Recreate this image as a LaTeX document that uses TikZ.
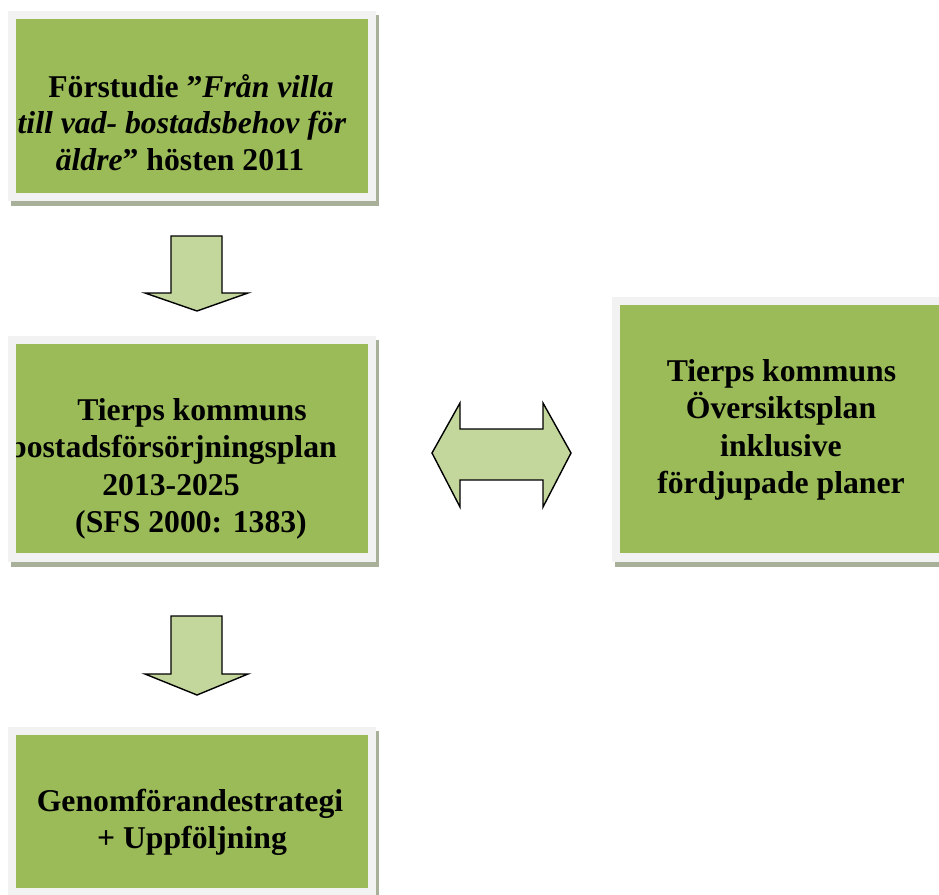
\documentclass[tikz,border=0pt]{standalone}
\usepackage{fontspec}
\setmainfont{Liberation Serif}
\definecolor{boxgreen}{HTML}{9BBB59}
\definecolor{rimgray}{HTML}{F2F2F2}
\definecolor{shadowc}{HTML}{A8B09A}
\definecolor{arrowfill}{HTML}{C3D69B}
\tikzset{
  shadowbox/.style={fill=shadowc, draw=none},
  rimbox/.style={fill=rimgray, draw=none},
  greenbox/.style={rectangle, fill=boxgreen, draw=none, inner sep=0pt},
  txt/.style={anchor=base, inner sep=0pt, font=\fontsize{31.7}{38}\selectfont\bfseries},
  blockarrow/.style={fill=arrowfill, draw=black, line width=1.4pt, line join=miter}
}
\begin{document}
\begin{tikzpicture}[x=1pt,y=-1pt]
\useasboundingbox (0,0) rectangle (939,894);

% ---- Box 1
\fill[shadowbox] (11,15) rectangle (379,206);
\fill[rimbox] (8,11) rectangle (376,201);
\node[greenbox, minimum width=352pt, minimum height=174pt] (b1) at (192,106) {};
\begin{scope}
\clip (16,19) rectangle (368,193);
\node[txt] (b1l1) at (191,97) {Förstudie ”\textit{Från villa}};
\node[txt] (b1l2) at (182,133) {\textit{till vad- bostadsbehov för}};
\node[txt] (b1l3) at (180,170) {\textit{äldre}” hösten 2011};
\end{scope}

% ---- Box 2
\fill[shadowbox] (11,340) rectangle (379,567);
\fill[rimbox] (8,336) rectangle (376,562);
\node[greenbox, minimum width=352pt, minimum height=209pt] (b2) at (192,448.5) {};
\begin{scope}
\clip (16,344) rectangle (368,553);
\node[txt] (b2l1) at (192,420) {Tierps kommuns};
\node[txt, anchor=base east] (b2l2) at (337,457) {bostadsförsörjningsplan};
\node[txt] (b2l3) at (171,495) {2013-2025};
\node[txt] (b2l4) at (191,532) {(SFS 2000: 1383)};
\end{scope}

% ---- Box 3
\fill[shadowbox] (615,301) rectangle (950,567);
\fill[rimbox] (612,297) rectangle (947,562);
\node[greenbox, minimum width=330pt, minimum height=248pt] (b3) at (785,429) {};
\node[txt] (b3l1) at (781.5,381) {Tierps kommuns};
\node[txt] (b3l2) at (781,418) {Översiktsplan};
\node[txt] (b3l3) at (781,456) {inklusive};
\node[txt] (b3l4) at (781,493) {fördjupade planer};

% ---- Box 4
\fill[shadowbox] (11,731) rectangle (379,905);
\fill[rimbox] (8,727) rectangle (376,900);
\node[greenbox, minimum width=352pt, minimum height=153pt] (b4) at (192,811.5) {};
\node[txt] (b4l1) at (190,811) {Genomförandestrategi};
\node[txt] (b4l2) at (192,848) {+ Uppföljning};

% ---- Arrows
\draw[blockarrow] (171,236) -- (222,236) -- (222,293) -- (248,293) -- (197,311)
  -- (145,293) -- (171,293) -- cycle;
\draw[blockarrow] (171,616) -- (222,616) -- (222,674) -- (248,674) -- (197,695)
  -- (145,674) -- (171,674) -- cycle;
\draw[blockarrow] (432,453) -- (460,403) -- (460,429) -- (543,429) -- (543,403)
  -- (571,453) -- (543,507) -- (543,480) -- (460,480) -- (460,507) -- cycle;
\end{tikzpicture}
\end{document}
